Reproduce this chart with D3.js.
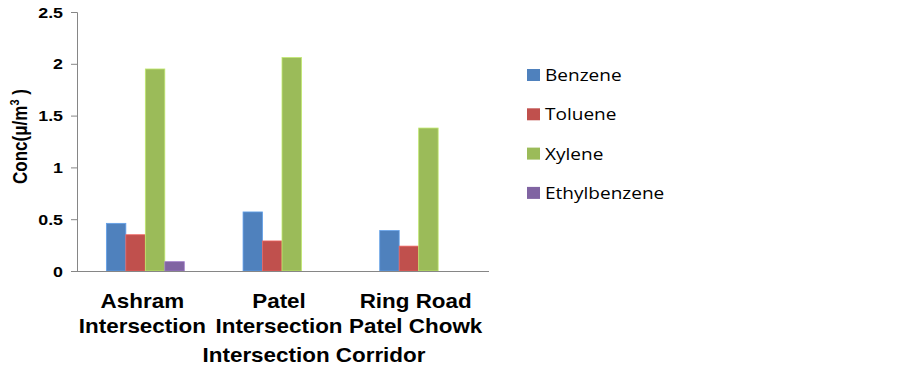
<!DOCTYPE html>
<html lang="en">
<head>
<meta charset="UTF-8">
<title>VOC concentration by intersection</title>
<script src="https://d3js.org/d3.v7.min.js"></script>
<style>
    body { margin: 0; background: #fff; }
    svg { display: block; }
    .bold { font-family: "Liberation Sans", Arial, sans-serif; font-weight: bold; fill: #000; }
</style>
</head>
<body>
<div id="chart"></div>
<script>
    const categories = [["Ashram", "Intersection"], ["Patel", "Intersection"], ["Ring Road", "Patel Chowk"]];
    const seriesNames = ["Benzene", "Toluene", "Xylene", "Ethylbenzene"];
    const colors = ["#4F81BD", "#C0504D", "#9BBB59", "#8064A2"];
    const benzene = [0.46, 0.57, 0.39];
    const toluene = [0.35, 0.29, 0.24];
    const xylene = [1.95, 2.06, 1.38];
    const ethylbenzene = [0.09, 0, 0];
    const yTicks = [0, 0.5, 1, 1.5, 2, 2.5];

    const values = [benzene, toluene, xylene, ethylbenzene];
    const W = 903, H = 369;
    const margin = { top: 12, left: 77, right: 416, bottom: 98 };
    const width = W - margin.left - margin.right;
    const height = H - margin.top - margin.bottom;
    const stretch = 1.15; // the source text is a bit wide

    const svg = d3.select("#chart").append("svg")
        .attr("width", W).attr("height", H);
    const g = svg.append("g")
        .attr("transform", `translate(${margin.left},${margin.top})`);

    // text placed at (x,y) and widened horizontally
    function wideText(parent, x, y, size, anchor) {
        return parent.append("text")
            .attr("class", "bold")
            .attr("transform", `translate(${x},${y}) scale(${stretch},1)`)
            .attr("text-anchor", anchor)
            .style("font-size", size + "px");
    }

    const x0 = d3.scaleBand()
        .domain(d3.range(categories.length))
        .range([0, width])
        .paddingInner(0.43)
        .paddingOuter(0.215);
    const x1 = d3.scaleBand()
        .domain(d3.range(seriesNames.length))
        .range([0, x0.bandwidth()]);
    const y = d3.scaleLinear().domain([0, 2.5]).range([height, 0]);

    // y axis
    const yAxis = g.append("g")
        .call(d3.axisLeft(y).tickValues(yTicks).tickSize(6).tickFormat(""));
    yAxis.selectAll("line, path").attr("stroke", "#868686");
    yAxis.select(".domain").attr("d", `M-6,0.5H0.5V${height + 0.5}`);
    yTicks.forEach(t => {
        wideText(g, -14, y(t) + 5.5, 15.5, "end").text(t);
    });

    // bars
    categories.forEach((c, i) => {
        const grp = g.append("g").attr("transform", `translate(${x0(i)},0)`);
        seriesNames.forEach((s, j) => {
            const v = values[j][i];
            if (!v) return;
            grp.append("rect")
                .attr("x", x1(j))
                .attr("y", y(v))
                .attr("width", x1.bandwidth())
                .attr("height", height - y(v))
                .attr("fill", colors[j])
                .attr("stroke", d3.color(colors[j]).brighter(0.6))
                .attr("stroke-width", 0.8);
        });
    });

    // x axis line
    g.append("line")
        .attr("x1", 0).attr("x2", width + 2)
        .attr("y1", height + 0.5).attr("y2", height + 0.5)
        .attr("stroke", "#868686");

    // category labels
    categories.forEach((c, i) => {
        c.forEach((line, k) => {
            wideText(g, x0(i) + x0.bandwidth() / 2 - 3, height + 37 + k * 25, 19.5, "middle")
                .text(line);
        });
    });

    // axis titles
    wideText(svg, 314, 362, 19.5, "middle").text("Intersection Corridor");

    const yt = svg.append("text")
        .attr("class", "bold")
        .attr("transform", `translate(27,136.5) scale(${stretch},1) rotate(-90)`)
        .attr("text-anchor", "middle")
        .style("font-size", "17px");
    yt.append("tspan").text("Conc(μ/m");
    yt.append("tspan").attr("dy", -7).style("font-size", "11px").text("3");
    yt.append("tspan").attr("dy", 7).text(" )");

    // legend
    const legend = svg.append("g").attr("transform", "translate(527,81)");
    seriesNames.forEach((s, j) => {
        legend.append("rect")
            .attr("x", 0).attr("y", j * 39.3 - 12)
            .attr("width", 13).attr("height", 12)
            .attr("fill", colors[j]);
        legend.append("text")
            .attr("transform", `translate(18,${j * 39.3}) scale(1.12,1)`)
            .style("font-family", "Open Sans, sans-serif")
            .style("font-size", "17px")
            .text(s);
    });
</script>
</body>
</html>
